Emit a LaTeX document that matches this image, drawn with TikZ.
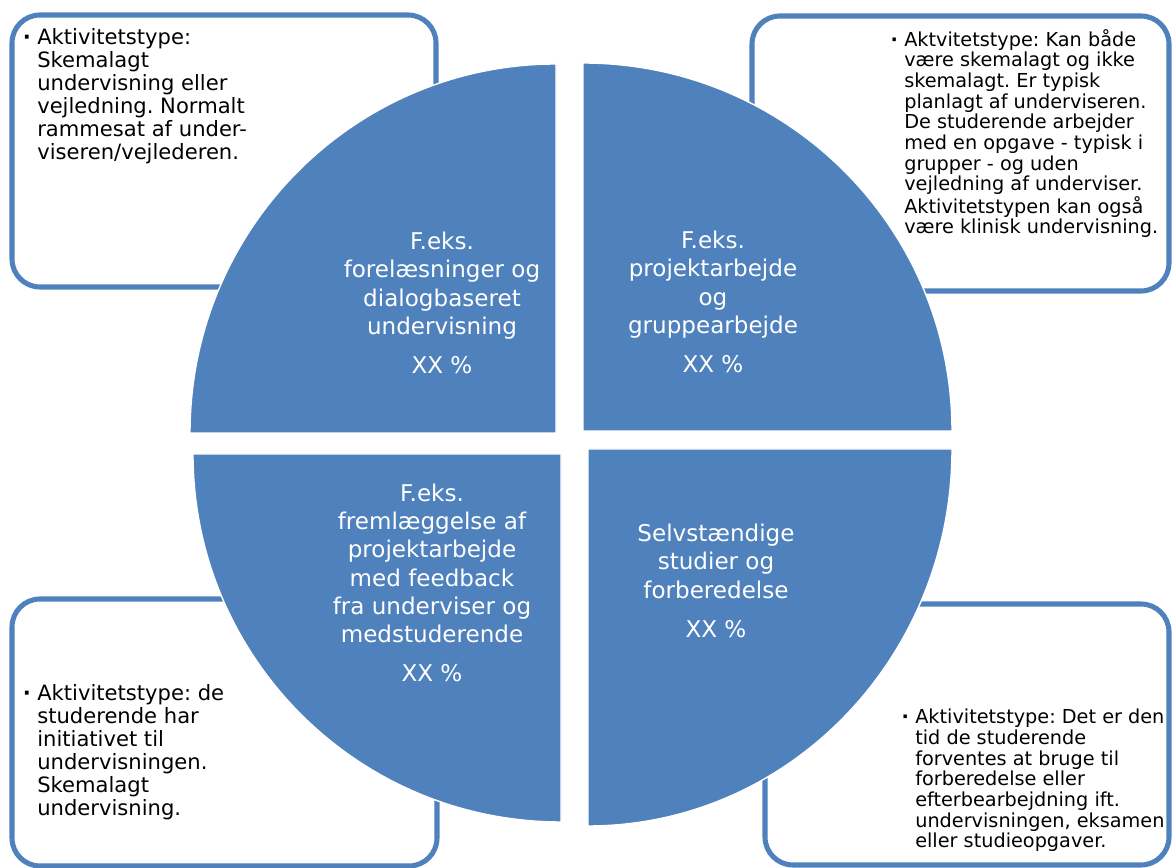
\documentclass[tikz,border=0pt]{standalone}
\usepackage{fontspec}
\setmainfont{DejaVu Sans}
\definecolor{aublue}{RGB}{79,129,189}
\tikzset{
  quad/.style={fill=aublue,draw=white,line width=1pt},
  infobox/.style={draw=aublue,fill=white,line width=3.6pt,rounded corners=0.7cm},
  bigtxt/.style={anchor=north west,align=left,inner sep=0pt,font=\fontsize{15}{16.4}\selectfont},
  smalltxt/.style={anchor=north west,align=left,inner sep=0pt,font=\fontsize{13.7}{14.7}\selectfont},
  quadtxt/.style={text=white,align=center,inner sep=0pt,font=\fontsize{16.4}{20.1}\selectfont}
}
\newcommand{\dotitem}{\llap{\textbf{·}\hspace{4.5pt}}}
\frenchspacing

\begin{document}
\begin{tikzpicture}[x=0.025cm,y=0.025cm]
  \useasboundingbox (0,0) rectangle (1172,868);
  \draw[infobox] (12,581) rectangle (436,853);
  \draw[infobox] (752,577) rectangle (1169,852);
  \draw[infobox] (12,2) rectangle (437,269);
  \draw[infobox] (765,3) rectangle (1169,264);
  \filldraw[quad] (556,435) -- ++(-366,0) arc[start angle=180,end angle=90,x radius=366,y radius=369] -- cycle;
  \filldraw[quad] (583,437) -- ++(0,368) arc[start angle=90,end angle=0,x radius=369,y radius=368] -- cycle;
  \filldraw[quad] (588,419) -- ++(364,0) arc[start angle=0,end angle=-90,x radius=364,y radius=377] -- cycle;
  \filldraw[quad] (561,414) -- ++(0,-368) arc[start angle=270,end angle=180,x radius=368,y radius=368] -- cycle;
  \node[bigtxt] (tlinfo) at (37,840) {\dotitem Aktivitetstype:\\Skemalagt\\undervisning eller\\vejledning. Normalt\\rammesat af under-\\viseren/vejlederen.};
  \node[smalltxt] (trinfo) at (904,839) {\dotitem Aktvitetstype: Kan både\\være skemalagt og ikke\\skemalagt. Er typisk\\planlagt af underviseren.\\De studerende arbejder\\med en opgave - typisk i\\grupper - og uden\\vejledning af underviser.\\Aktivitetstypen kan også\\være klinisk undervisning.};
  \node[bigtxt] (blinfo) at (37,184) {\dotitem Aktivitetstype: de\\studerende har\\initiativet til\\undervisningen.\\Skemalagt\\undervisning.};
  \node[smalltxt] (brinfo) at (915,159) {\dotitem Aktivitetstype: Det er den\\tid de studerende\\forventes at bruge til\\forberedelse eller\\efterbearbejdning ift.\\undervisningen, eksamen\\eller studieopgaver.};
  \node[quadtxt] (tlquad) at (442,565) {F.eks.\\forelæsninger og\\dialogbaseret\\undervisning\\[7.8pt]XX \%};
  \node[quadtxt] (trquad) at (713,566) {F.eks.\\projektarbejde\\og\\gruppearbejde\\[7.8pt]XX \%};
  \node[quadtxt] (brquad) at (716,287) {Selvstændige\\studier og\\forberedelse\\[7.8pt]XX \%};
  \node[quadtxt] (blquad) at (432,285) {F.eks.\\fremlæggelse af\\projektarbejde\\med feedback\\fra underviser og\\medstuderende\\[7.8pt]XX \%};
\end{tikzpicture}
\end{document}
